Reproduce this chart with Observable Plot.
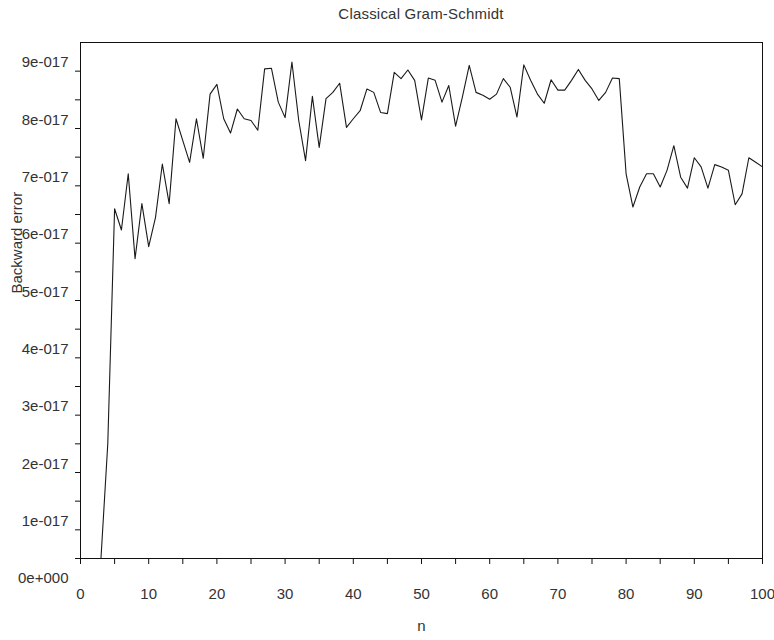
<!DOCTYPE html>
<html>
<head>
<meta charset="utf-8">
<script src="https://cdn.jsdelivr.net/npm/d3@7"></script>
<script src="https://cdn.jsdelivr.net/npm/@observablehq/plot@0.6"></script>
<style>
  body { margin: 0; background: #fff; font-family: "Liberation Sans", Arial, sans-serif; }
  #title { box-sizing: border-box; width: 774px; height: 28px; line-height: 28px; padding: 0 12px 0 80px;
           text-align: center; font-size: 15px; color: #333; letter-spacing: 0.2px; }
</style>
</head>
<body>
<div id="title">Classical Gram-Schmidt</div>
<div id="chart"></div>
<script>
// n (matrix size) and backward error, in units of 1e-17
const nValues = [3,4,5,6,7,8,9,10,11,12,13,14,15,16,17,18,19,20,21,22,23,24,25,26,27,28,29,30,
  31,32,33,34,35,36,37,38,39,40,41,42,43,44,45,46,47,48,49,50,51,52,53,54,55,56,57,58,59,60,
  61,62,63,64,65,66,67,68,69,70,71,72,73,74,75,76,77,78,79,80,81,82,83,84,85,86,87,88,89,90,
  91,92,93,94,95,96,97,98,99,100];
const backwardError = [0, 2.0, 6.10, 5.73, 6.71, 5.23, 6.19, 5.44, 5.95, 6.88, 6.19, 7.67, 7.29, 6.91,
  7.67, 6.98, 8.10, 8.27, 7.67, 7.42, 7.84, 7.67, 7.64, 7.47, 8.54, 8.55, 7.96, 7.69, 8.66, 7.64, 6.94,
  8.06, 7.17, 8.02, 8.13, 8.29, 7.52, 7.67, 7.81, 8.19, 8.13, 7.78, 7.76, 8.48, 8.37, 8.52, 8.34, 7.65,
  8.38, 8.34, 7.96, 8.25, 7.54, 8.05, 8.60, 8.13, 8.08, 8.01, 8.10, 8.37, 8.22, 7.70, 8.61, 8.34, 8.10,
  7.94, 8.35, 8.17, 8.17, 8.34, 8.53, 8.34, 8.19, 7.99, 8.13, 8.38, 8.37, 6.71, 6.13, 6.48, 6.71, 6.71,
  6.48, 6.77, 7.20, 6.65, 6.46, 6.99, 6.83, 6.46, 6.87, 6.83, 6.77, 6.17, 6.36, 6.99, 6.91, 6.83];

const yTicks = [0, 1, 2, 3, 4, 5, 6, 7, 8, 9];
const yTickLabels = ["0e+000","1e-017","2e-017","3e-017","4e-017","5e-017","6e-017","7e-017","8e-017","9e-017"];
const yMinorTicks = [0, 0.5, 1, 1.5, 2, 2.5, 3, 3.5, 4, 4.5, 5, 5.5, 6, 6.5, 7, 7.5, 8, 8.5];
const xTicks = [0, 10, 20, 30, 40, 50, 60, 70, 80, 90, 100];
const xMinorTicks = [0, 5, 10, 15, 20, 25, 30, 35, 40, 45, 50, 55, 60, 65, 70, 75, 80, 85, 90, 95, 100];

const data = nValues.map((n, i) => ({n, e: backwardError[i]}));

const chart = Plot.plot({
  width: 774,
  height: 612,
  marginTop: 14,
  marginBottom: 82,
  marginLeft: 80,
  marginRight: 12,
  style: { fontSize: "15px", fontFamily: "'Liberation Sans', Arial, sans-serif", color: "#333", background: "#fff" },
  x: { domain: [0, 100] },
  y: { domain: [0, 9] },
  marks: [
    Plot.axisY(yMinorTicks, { tickSize: 5, tickFormat: () => "", label: null, stroke: "#111" }),
    Plot.axisY(yTicks, { tickSize: 0, tickPadding: 12, dy: 20, label: null,
      tickFormat: d => yTickLabels[yTicks.indexOf(d)] }),
    Plot.axisX(xMinorTicks, { tickSize: 6, tickFormat: () => "", label: null, stroke: "#111" }),
    Plot.axisX(xTicks, { tickSize: 0, tickPadding: 30, label: null }),
    Plot.frame({ stroke: "#111" }),
    Plot.line(data, { x: "n", y: "e", stroke: "#1a1a1a", strokeWidth: 1.1 }),
    Plot.text(["n"], { frameAnchor: "bottom", dy: 72, fill: "#333" }),
    Plot.text(["Backward error"], { frameAnchor: "left", dx: -63, dy: -7, rotate: -90, fill: "#333" })
  ]
});
document.getElementById("chart").appendChild(chart);
</script>
</body>
</html>
